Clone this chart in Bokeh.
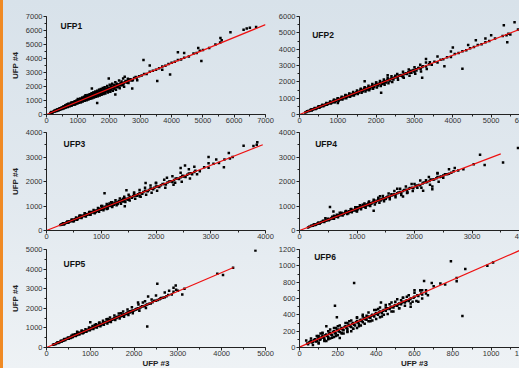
from bokeh.plotting import figure
from bokeh.models import Range1d, SingleIntervalTicker, Label, Spacer
from bokeh.layouts import row, column
from bokeh.embed import file_html
from bokeh.resources import INLINE

# ---------------- data ----------------
panel_titles = ["UFP1", "UFP2", "UFP3", "UFP4", "UFP5", "UFP6"]
x_title = "UFP #3"
y_title = "UFP #4"
axis_max = [7000, 6000, 4000, 4000, 5000, 1200]
tick_step = [1000, 1000, 1000, 1000, 1000, 200]

ufp1_pts = [
    (120, 100), (160, 170), (200, 160), (230, 240), (260, 210), (290, 290), (320, 260), (350, 340),
    (380, 320), (400, 400), (430, 370), (460, 450), (490, 420), (520, 510), (540, 460), (570, 560),
    (600, 530), (620, 600), (650, 560), (680, 660), (700, 610), (730, 700), (760, 660), (790, 760),
    (810, 700), (840, 800), (870, 760), (900, 860), (920, 790), (950, 900), (980, 850), (1000, 960),
    (1020, 880), (1050, 1010), (1080, 930), (1100, 1080), (1120, 960), (1150, 1100), (1170, 1000),
    (1200, 1160), (1220, 1050), (1250, 1200), (1270, 1090), (1300, 1250), (1320, 1120), (1350, 1290),
    (1370, 1170), (1400, 1340), (1420, 1210), (1450, 1380), (1470, 1260), (1500, 1420), (1520, 1300),
    (1550, 1470), (1570, 1340), (1600, 1520), (1620, 1380), (1650, 1560), (1670, 1440), (1700, 1600),
    (1720, 1480), (1750, 1650), (1780, 1530), (1800, 1700), (1830, 1580), (1860, 1760), (1900, 1660),
    (1940, 1820), (1980, 1730), (2020, 1900), (2060, 1800), (2100, 1960), (2150, 1880), (2200, 2040),
    (2250, 1980), (2300, 2130), (2350, 2080), (2400, 2220), (2460, 2180), (2520, 2330), (2580, 2300),
    (2650, 2450), (2720, 2420), (2800, 2600), (2880, 2600), (2960, 2740), (3040, 2780), (3120, 2900),
    (3200, 2900), (3300, 3050), (3400, 3120), (3500, 3200), (3600, 3300), (3700, 3420), (3800, 3480),
    (3900, 3600), (4000, 3700), (4100, 3760), (4200, 3900), (4300, 3920), (4400, 4050), (4550, 4150),
    (4700, 4350), (4800, 4400), (4900, 4550), (5000, 4600), (5200, 4750), (5400, 5000),
    (650, 720), (800, 640), (1000, 1100), (1100, 900), (1250, 1330), (1350, 1150), (1450, 1250),
    (1550, 1580), (1650, 1380), (1750, 1720), (900, 720), (700, 760), (1150, 1200), (1300, 1100),
    (1450, 1850), (1620, 820), (1990, 2570), (2200, 1420), (2740, 1850), (3100, 3900), (3540, 2400),
    (3950, 2850), (4400, 4400), (4950, 3820), (5560, 5460), (5600, 5300), (5880, 5870), (6300, 6050),
    (6400, 6150), (6500, 6200), (6700, 6250), (2500, 2700), (3300, 3500), (4200, 4450), (4850, 4750),
    (5550, 5150), (3700, 3200), (2900, 2450),
    (150, 150), (180, 130), (250, 260), (280, 230), (310, 300), (340, 280), (370, 350), (410, 360),
    (440, 420), (470, 410), (500, 470), (530, 480), (560, 530), (590, 520), (630, 590), (660, 600),
    (690, 650), (720, 650), (750, 700), (770, 690), (820, 760), (850, 770), (880, 800), (910, 830),
    (940, 870), (970, 880), (1010, 930), (1040, 940), (1060, 990), (1090, 1000), (1130, 1040),
    (1160, 1060), (1190, 1100), (1210, 1110), (1240, 1150), (1280, 1170), (1310, 1200), (1340, 1230),
    (1380, 1260), (1410, 1300), (1440, 1320), (1480, 1350), (1510, 1390), (1540, 1410), (1580, 1450),
    (1610, 1480), (1640, 1500), (1690, 1550), (1730, 1590), (1770, 1620), (1820, 1680), (1870, 1710),
    (1920, 1770), (1970, 1800), (2030, 1870), (2080, 1910), (2130, 1950), (2180, 2010), (2230, 2040),
    (2280, 2100), (2330, 2140), (2380, 2190), (2430, 2240), (2490, 2290), (2550, 2350), (2610, 2400),
    (2700, 2480), (1200, 1000), (1400, 1180), (1600, 1380), (1800, 1560), (1000, 820), (1250, 1380),
    (1500, 1560), (1700, 1750), (800, 850), (600, 650),
]
ufp1_band = [
    (300, 315), (320, 256), (360, 378), (380, 304), (420, 441), (440, 352), (480, 504), (500, 400),
    (540, 567), (560, 448), (600, 630), (620, 496), (660, 693), (680, 544), (720, 756), (740, 592),
    (780, 819), (800, 640), (840, 882), (860, 688), (900, 945), (920, 736), (960, 1008), (980, 784),
    (1020, 1071), (1040, 832), (1080, 1134), (1100, 880), (1140, 1197), (1160, 928), (1200, 1260),
    (1220, 976), (1260, 1323), (1280, 1024), (1320, 1386), (1340, 1072), (1380, 1449), (1400, 1120),
    (1440, 1512), (1460, 1168), (1500, 1575), (1520, 1216), (1560, 1638), (1580, 1264), (1620, 1701),
    (1640, 1312), (1680, 1764), (1700, 1360), (1740, 1827), (1760, 1408), (1800, 1890), (1820, 1456),
    (1860, 1953), (1880, 1504), (1940, 2037), (1960, 1568), (2020, 2121), (2040, 1632), (2100, 2205),
    (2120, 1696), (2200, 2310), (2220, 1776), (2320, 2436), (2340, 1872), (2450, 2572), (2480, 1984),
    (350, 343), (370, 318), (450, 441), (470, 404), (550, 539), (570, 490), (650, 637), (670, 576),
    (750, 735), (770, 662), (850, 833), (870, 748), (950, 931), (970, 834), (1050, 1029), (1070, 920),
    (1150, 1127), (1170, 1006), (1250, 1225), (1270, 1092), (1350, 1323), (1370, 1178), (1450, 1421),
    (1470, 1264), (1550, 1519), (1570, 1350), (1650, 1617), (1670, 1436), (1750, 1715), (1770, 1522),
    (1850, 1813), (1870, 1608), (1950, 1911), (1970, 1694), (2050, 2009), (2070, 1780), (2150, 2107),
    (2170, 1866), (2250, 2205), (2270, 1952), (2400, 2352), (2420, 2081), (2600, 2548), (2620, 2253),
    (330, 310), (390, 355), (430, 400), (490, 455), (530, 470), (590, 560), (640, 585), (700, 660),
    (740, 680), (790, 750), (830, 760), (880, 835), (930, 850), (990, 940), (1030, 950), (1090, 1030),
    (1130, 1000), (1180, 1120), (1230, 1090), (1290, 1230), (1330, 1170), (1390, 1320), (1430, 1260),
    (1490, 1420), (1530, 1350), (1590, 1500), (1630, 1430), (1690, 1600), (1730, 1510), (1790, 1690),
    (1840, 1620), (1890, 1790), (1930, 1700), (1990, 1880), (2040, 1790), (2110, 1990), (2160, 1900),
    (2240, 2120), (2290, 2010), (2370, 2240), (2440, 2140), (2530, 2390), (2590, 2270), (2680, 2510),
    (2760, 2440), (2850, 2680),
]
ufp1_fit_x = [0, 7000]
ufp1_fit_y = [0, 6420]

ufp2_pts = [
    (150, 130), (200, 200), (250, 210), (300, 290), (350, 300), (400, 380), (450, 390), (500, 470),
    (550, 480), (600, 560), (650, 570), (700, 650), (750, 660), (800, 750), (850, 740), (900, 840),
    (950, 830), (1000, 930), (1050, 920), (1100, 1020), (1150, 1000), (1200, 1110), (1250, 1080),
    (1300, 1200), (1350, 1170), (1400, 1290), (1450, 1250), (1500, 1380), (1550, 1340), (1600, 1470),
    (1650, 1420), (1700, 1560), (1750, 1500), (1800, 1660), (1850, 1590), (1900, 1750), (1950, 1680),
    (2000, 1840), (2050, 1780), (2100, 1930), (2150, 1860), (2200, 2020), (2250, 1960), (2300, 2110),
    (2350, 2050), (2400, 2200), (2450, 2150), (2500, 2290), (2560, 2250), (2620, 2390), (2680, 2360),
    (2740, 2500), (2800, 2480), (2860, 2600), (2920, 2560), (2980, 2720), (3050, 2700), (3100, 2850),
    (3160, 2780), (3220, 2950), (3300, 2940), (3380, 3080), (3450, 3050), (3520, 3230), (3600, 3180),
    (3680, 3350), (3750, 3380), (3850, 3500), (3950, 3520), (4050, 3700), (4150, 3760), (4250, 3880),
    (4350, 3940), (4450, 4050), (4550, 4130), (4650, 4250), (4750, 4300), (4850, 4420), (4950, 4500),
    (5100, 4650), (5300, 4800),
    (700, 600), (900, 900), (1100, 950), (1300, 1260), (1500, 1320), (1700, 1620), (1900, 1700),
    (2500, 2380), (2900, 2680), (3000, 2600), (3400, 3200),
    (1700, 2040), (2130, 1330), (2890, 2550), (3200, 2250), (3780, 2950), (3950, 3850), (4250, 2800),
    (5420, 4420), (5450, 4950), (5500, 4900), (5400, 4850), (5330, 5470), (5610, 5650), (5700, 5200),
    (4600, 4550), (4000, 4100), (3300, 3400), (4850, 4650), (2300, 2400), (1000, 700), (2700, 2300),
    (3600, 3550), (4400, 4250), (5000, 4850),
    (180, 160), (230, 210), (280, 250), (330, 300), (380, 340), (430, 390), (480, 440), (530, 480),
    (580, 530), (630, 570), (680, 620), (730, 660), (780, 710), (830, 760), (880, 800), (930, 850),
    (980, 890), (1030, 940), (1080, 980), (1130, 1030), (1180, 1070), (1230, 1120), (1280, 1170),
    (1330, 1210), (1380, 1260), (1430, 1300), (1480, 1350), (1530, 1390), (1580, 1440), (1630, 1480),
    (1680, 1530), (1730, 1570), (1780, 1620), (1830, 1670), (1880, 1710), (1930, 1760), (1980, 1800),
    (2030, 1850), (2080, 1890), (2130, 1940), (2180, 1980), (2230, 2030), (2280, 2080), (2330, 2120),
    (2380, 2170), (2430, 2210), (2480, 2260), (2540, 2310), (2600, 2370), (2660, 2420), (2720, 2470),
    (2780, 2530), (2840, 2580), (2900, 2640), (2960, 2690), (3040, 2770), (3120, 2840), (3200, 2910),
    (1200, 1200), (1400, 1200), (1600, 1550), (1800, 1560), (2000, 1950), (2200, 1900), (1000, 1000),
    (900, 760),
]
ufp2_band = [
    (300, 300), (320, 250), (400, 400), (420, 340), (500, 500), (520, 420), (600, 600), (620, 500),
    (700, 700), (720, 590), (800, 790), (820, 670), (900, 890), (920, 750), (1000, 990), (1020, 830),
    (1100, 1090), (1120, 920), (1200, 1180), (1220, 1000), (1300, 1280), (1320, 1080), (1400, 1380),
    (1420, 1160), (1500, 1470), (1520, 1250), (1600, 1570), (1620, 1330), (1700, 1670), (1720, 1410),
    (1800, 1760), (1820, 1490), (1900, 1860), (1920, 1580), (2000, 1960), (2020, 1660), (2100, 2050),
    (2120, 1740), (2200, 2150), (2220, 1820), (2300, 2250), (2320, 1910), (2400, 2340), (2420, 1990),
    (2550, 2480), (2570, 2120), (2700, 2620), (2720, 2250), (2850, 2760), (2870, 2380), (3000, 2900),
    (3020, 2500), (3150, 3050), (3170, 2640), (3300, 3180), (3320, 2780),
]
ufp2_fit_x = [0, 6000]
ufp2_fit_y = [0, 5450]

ufp3_pts = [
    (250, 220), (280, 240), (300, 270), (330, 290), (360, 320), (390, 340), (420, 380), (450, 390),
    (480, 430), (510, 440), (540, 490), (570, 490), (600, 540), (630, 540), (660, 600), (690, 590),
    (720, 650), (750, 640), (780, 700), (810, 700), (840, 760), (870, 750), (900, 810), (930, 800),
    (960, 870), (990, 850), (1020, 920), (1050, 900), (1080, 980), (1110, 950), (1140, 1030),
    (1170, 1000), (1200, 1090), (1230, 1050), (1260, 1140), (1290, 1100), (1320, 1200), (1350, 1160),
    (1380, 1250), (1410, 1210), (1440, 1300), (1480, 1270), (1520, 1380), (1560, 1340), (1600, 1440),
    (1650, 1420), (1700, 1530), (1750, 1500), (1800, 1620), (1850, 1600), (1900, 1710), (1950, 1680),
    (2000, 1800), (2060, 1780), (2120, 1900), (2180, 1880), (2240, 2000), (2300, 1980), (2360, 2120),
    (2420, 2100), (2480, 2230), (2540, 2180), (2600, 2330), (2660, 2300), (2720, 2440), (2800, 2420),
    (2880, 2580), (2960, 2560), (3050, 2720), (3150, 2760), (3250, 2900), (3350, 2940),
    (500, 380), (700, 700), (900, 760), (1000, 1000), (1100, 880), (1200, 1150), (1300, 1080),
    (1400, 1300), (1500, 1260), (1600, 1500), (800, 640), (600, 600),
    (1060, 1520), (1460, 1640), (1430, 990), (1810, 1940), (2530, 2650), (2450, 2550), (2500, 2200),
    (2960, 2740), (2960, 3000), (3240, 2580), (3330, 3160), (3600, 3460), (3780, 3450), (3840, 3500),
    (3850, 3600), (3100, 2900), (2700, 2600), (2200, 2150), (2000, 1950), (2750, 2300), (2350, 1950),
    (1700, 1400), (3400, 3000),
    (270, 250), (310, 280), (340, 300), (370, 330), (400, 360), (430, 380), (460, 410), (490, 430),
    (520, 460), (550, 490), (580, 510), (610, 540), (640, 570), (670, 590), (700, 620), (730, 650),
    (760, 670), (790, 700), (820, 730), (850, 750), (880, 780), (910, 810), (940, 830), (970, 860),
    (1000, 890), (1030, 910), (1060, 940), (1090, 960), (1120, 990), (1150, 1020), (1180, 1040),
    (1210, 1070), (1240, 1100), (1270, 1120), (1300, 1150), (1340, 1190), (1370, 1210), (1400, 1240),
    (1430, 1270), (1460, 1290), (1500, 1330), (1540, 1360), (1580, 1400), (1620, 1430), (1670, 1480),
    (1720, 1520), (1770, 1570), (1820, 1610), (1870, 1650), (1920, 1700), (1970, 1740), (2030, 1800),
    (2090, 1850), (2150, 1900), (2210, 1960), (2270, 2010), (2330, 2060), (2390, 2120), (2450, 2170),
    (2510, 2220), (2570, 2280), (2640, 2340), (2700, 2390), (800, 760), (1000, 850), (1200, 1000),
    (1400, 1180), (1150, 1100), (950, 900),
]
ufp3_band = [
    (300, 300), (320, 250), (380, 370), (400, 320), (460, 450), (480, 380), (540, 530), (560, 440),
    (620, 610), (640, 510), (700, 690), (720, 570), (780, 760), (800, 640), (860, 840), (880, 700),
    (940, 920), (960, 770), (1020, 1000), (1040, 830), (1100, 1080), (1120, 900), (1180, 1150),
    (1200, 960), (1260, 1230), (1280, 1030), (1340, 1310), (1360, 1090), (1420, 1380), (1440, 1160),
    (1500, 1460), (1520, 1220), (1600, 1550), (1620, 1300), (1700, 1650), (1720, 1380), (1800, 1740),
    (1820, 1460), (1900, 1840), (1920, 1540), (2000, 1930), (2020, 1620), (2150, 2070), (2170, 1750),
    (2300, 2210), (2320, 1870), (2450, 2360), (2470, 1990), (2600, 2500), (2620, 2120),
]
ufp3_fit_x = [0, 3950]
ufp3_fit_y = [0, 3500]

ufp4_pts = [
    (150, 120), (200, 180), (230, 190), (260, 240), (290, 250), (320, 290), (350, 300), (380, 350),
    (410, 360), (440, 400), (470, 410), (500, 460), (530, 460), (560, 510), (590, 510), (620, 570),
    (650, 560), (680, 620), (710, 620), (740, 680), (770, 670), (800, 730), (830, 720), (860, 790),
    (890, 770), (920, 840), (950, 820), (980, 890), (1010, 870), (1040, 950), (1070, 920), (1100, 1000),
    (1130, 970), (1160, 1050), (1190, 1030), (1220, 1110), (1250, 1090), (1290, 1170), (1330, 1150),
    (1370, 1240), (1410, 1220), (1450, 1310), (1490, 1290), (1530, 1380), (1570, 1360), (1620, 1450),
    (1670, 1440), (1720, 1550), (1770, 1540), (1820, 1650), (1870, 1630), (1920, 1730), (1980, 1720),
    (2040, 1840), (2100, 1850), (2160, 1960), (2220, 1980), (2280, 2080), (2340, 2080), (2400, 2180),
    (2460, 2200), (2530, 2300), (2600, 2320), (2680, 2420), (2760, 2450),
    (450, 500), (600, 480), (700, 720), (850, 700), (1000, 950), (1150, 1000), (1300, 1230),
    (1500, 1300), (1600, 1480), (900, 880),
    (530, 960), (590, 780), (1290, 810), (1800, 1390), (1880, 1550), (2150, 1620), (2310, 1680),
    (2310, 1800), (2400, 2350), (2200, 2050), (2000, 1900), (2050, 1750), (2500, 2150), (2700, 2550),
    (2600, 2500), (3030, 2700), (3140, 3090), (3220, 2670), (3540, 2780), (3800, 3370), (3880, 3600),
    (2850, 2500), (1700, 1700), (1400, 1400), (1000, 780),
    (170, 150), (210, 190), (250, 220), (280, 250), (310, 280), (340, 300), (370, 330), (400, 360),
    (430, 380), (460, 410), (490, 440), (520, 470), (550, 490), (580, 520), (610, 550), (640, 570),
    (670, 600), (700, 630), (730, 650), (760, 680), (790, 710), (820, 730), (850, 760), (880, 790),
    (910, 810), (940, 840), (970, 870), (1000, 900), (1030, 920), (1060, 950), (1090, 980),
    (1120, 1000), (1150, 1030), (1180, 1060), (1210, 1080), (1240, 1110), (1270, 1140), (1310, 1170),
    (1350, 1210), (1390, 1240), (1430, 1280), (1470, 1320), (1510, 1350), (1550, 1390), (1600, 1430),
    (1650, 1480), (1700, 1520), (1750, 1570), (1800, 1610), (1850, 1660), (1900, 1700), (1960, 1750),
    (2020, 1810), (2080, 1860), (2140, 1920), (2200, 1970), (2260, 2020), (2320, 2080), (2380, 2130),
    (2440, 2180), (2500, 2240), (2570, 2300), (2640, 2360), (800, 780), (1000, 860), (1200, 1130),
    (1400, 1260), (1100, 1050), (600, 600),
]
ufp4_band = [
    (250, 250), (270, 220), (330, 330), (350, 290), (410, 400), (430, 350), (490, 480), (510, 420),
    (570, 560), (590, 480), (650, 640), (670, 540), (730, 720), (750, 610), (810, 800), (830, 670),
    (890, 870), (910, 740), (970, 950), (990, 800), (1050, 1030), (1070, 870), (1130, 1100),
    (1150, 930), (1210, 1180), (1230, 1000), (1290, 1260), (1310, 1060), (1370, 1340), (1390, 1130),
    (1450, 1410), (1470, 1190), (1550, 1510), (1570, 1280), (1650, 1610), (1670, 1360), (1750, 1700),
    (1770, 1450), (1850, 1800), (1870, 1530), (1950, 1900), (1970, 1610), (2100, 2040), (2120, 1740),
    (2250, 2180), (2270, 1870), (2400, 2330), (2420, 1990),
]
ufp4_fit_x = [0, 3500]
ufp4_fit_y = [0, 3130]

ufp5_pts = [
    (150, 140), (200, 170), (250, 240), (300, 270), (350, 330), (400, 360), (450, 430), (500, 460),
    (550, 530), (600, 550), (650, 620), (700, 640), (750, 720), (800, 740), (850, 810), (900, 830),
    (950, 910), (1000, 930), (1050, 1000), (1100, 1030), (1150, 1100), (1200, 1120), (1250, 1190),
    (1300, 1220), (1350, 1290), (1400, 1310), (1450, 1390), (1500, 1410), (1550, 1490), (1600, 1500),
    (1650, 1580), (1700, 1600), (1750, 1680), (1800, 1700), (1850, 1780), (1900, 1790), (1950, 1880),
    (2000, 1890), (2060, 1980), (2120, 2000), (2180, 2100), (2240, 2120), (2300, 2200), (2380, 2250),
    (2460, 2380), (2540, 2420), (2620, 2520), (2700, 2560), (2780, 2680), (2860, 2700),
    (400, 420), (550, 480), (700, 700), (850, 760), (1000, 1000), (1150, 1050), (1300, 1280),
    (1450, 1330), (1600, 1560), (1750, 1620), (1900, 1850), (2050, 1940), (600, 650), (1200, 1250),
    (1000, 1290), (700, 800), (2090, 2300), (2320, 2600), (2530, 3250), (2300, 1070), (2950, 3160),
    (2900, 3050), (2960, 2950), (2900, 2850), (3000, 2900), (3100, 2700), (3150, 3000), (2700, 2800),
    (2600, 2500), (2400, 2450), (2200, 2300), (3900, 3760), (4030, 3700), (4260, 4070), (4770, 4950),
    (2800, 2900), (2500, 2650),
    (170, 160), (220, 210), (270, 260), (320, 300), (370, 350), (420, 400), (470, 450), (520, 500),
    (570, 540), (620, 590), (670, 640), (720, 690), (770, 740), (820, 780), (870, 830), (920, 880),
    (970, 930), (1020, 970), (1070, 1020), (1120, 1070), (1170, 1120), (1220, 1170), (1270, 1210),
    (1320, 1260), (1370, 1310), (1420, 1360), (1470, 1400), (1520, 1450), (1570, 1500), (1620, 1550),
    (1670, 1600), (1720, 1640), (1770, 1690), (1820, 1740), (1870, 1790), (1920, 1830), (1970, 1880),
    (2030, 1940), (2090, 2000), (2150, 2050), (2210, 2110), (2270, 2170), (2340, 2230), (2420, 2310),
    (2500, 2390), (2580, 2460), (2660, 2540), (2740, 2620), (800, 850), (1100, 1150), (1400, 1450),
    (1700, 1750), (950, 880), (1250, 1150), (1550, 1440), (1850, 1720),
]
ufp5_band = [
    (250, 260), (270, 230), (330, 340), (350, 310), (410, 430), (430, 380), (490, 510), (510, 450),
    (570, 600), (590, 520), (650, 680), (670, 590), (730, 770), (750, 660), (810, 850), (830, 730),
    (890, 930), (910, 800), (970, 1020), (990, 880), (1050, 1100), (1070, 950), (1130, 1190),
    (1150, 1020), (1210, 1270), (1230, 1090), (1290, 1360), (1310, 1160), (1370, 1440), (1390, 1230),
    (1450, 1530), (1470, 1300), (1550, 1630), (1570, 1400), (1650, 1740), (1670, 1480), (1750, 1840),
    (1770, 1570), (1850, 1940), (1870, 1660), (1950, 2050), (1970, 1750), (2100, 2200), (2120, 1880),
    (2250, 2360), (2270, 2010),
]
ufp5_fit_x = [0, 4270]
ufp5_fit_y = [0, 4080]

ufp6_pts = [
    (40, 50), (50, 60), (60, 80), (70, 70), (80, 100), (90, 80), (100, 120), (110, 100), (120, 140),
    (130, 110), (140, 160), (150, 130), (160, 180), (170, 150), (180, 200), (190, 170), (200, 220),
    (210, 190), (220, 240), (230, 210), (240, 260), (250, 230), (260, 280), (270, 250), (280, 300),
    (290, 270), (300, 320), (310, 290), (320, 340), (330, 310), (340, 360), (350, 340), (360, 380),
    (370, 360), (380, 400), (390, 380), (400, 420), (410, 400), (420, 440), (430, 420), (440, 460),
    (450, 450), (460, 480), (470, 470), (480, 500), (490, 490), (500, 520), (510, 510), (520, 540),
    (530, 530), (540, 560), (550, 550), (560, 580), (570, 570), (580, 600), (600, 620), (620, 630),
    (640, 650), (660, 660),
    (100, 60), (120, 180), (150, 100), (160, 220), (180, 130), (200, 260), (220, 180), (250, 300),
    (270, 200), (300, 360), (320, 270), (350, 390), (380, 330), (400, 460), (420, 370), (450, 490),
    (480, 440), (300, 240), (250, 190), (200, 150), (140, 80), (100, 140),
    (35, 85), (140, 260), (185, 510), (195, 370), (210, 115), (285, 790), (425, 550), (650, 815),
    (690, 790), (735, 785), (820, 810), (820, 850), (865, 960), (850, 385), (790, 1055), (980, 1000),
    (1010, 1040), (1160, 710), (600, 700), (640, 700), (560, 620), (530, 580), (700, 750), (760, 770),
    (620, 560), (580, 500),
    (45, 40), (55, 70), (65, 60), (75, 90), (85, 75), (95, 110), (105, 95), (115, 130), (125, 120),
    (135, 150), (145, 140), (155, 170), (165, 160), (175, 190), (185, 175), (195, 210), (205, 200),
    (215, 230), (225, 220), (235, 250), (245, 240), (255, 270), (265, 260), (275, 290), (285, 280),
    (295, 310), (305, 305), (315, 330), (325, 325), (335, 350), (345, 345), (355, 370), (365, 370),
    (375, 390), (385, 395), (395, 410), (405, 415), (415, 430), (435, 450), (455, 470), (475, 490),
    (495, 510), (515, 530), (535, 550), (555, 570), (575, 590), (595, 610), (615, 640), (635, 660),
    (110, 170), (130, 90), (170, 120), (190, 240), (230, 170), (260, 320), (280, 230), (330, 380),
    (360, 320), (410, 470), (440, 400), (500, 560), (520, 480), (470, 530), (540, 610), (590, 560),
    (630, 700),
]
ufp6_band = [
    (60, 110), (70, 30), (90, 140), (100, 50), (120, 170), (130, 80), (150, 200), (160, 110),
    (180, 240), (190, 140), (210, 270), (220, 170), (240, 300), (250, 200), (270, 330), (280, 230),
    (300, 370), (310, 260), (330, 400), (340, 290), (360, 430), (370, 320), (390, 460), (400, 350),
    (420, 490), (430, 380), (450, 520), (460, 410), (480, 550), (490, 440), (510, 590), (520, 480),
    (540, 610), (550, 510), (570, 640), (580, 540), (600, 670), (610, 570), (630, 700), (640, 600),
    (660, 700), (670, 640),
]
ufp6_fit_x = [0, 1160]
ufp6_fit_y = [5, 1200]

all_pts = [ufp1_pts + ufp1_band, ufp2_pts + ufp2_band, ufp3_pts + ufp3_band,
           ufp4_pts + ufp4_band, ufp5_pts + ufp5_band, ufp6_pts + ufp6_band]
all_fit_x = [ufp1_fit_x, ufp2_fit_x, ufp3_fit_x, ufp4_fit_x, ufp5_fit_x, ufp6_fit_x]
all_fit_y = [ufp1_fit_y, ufp2_fit_y, ufp3_fit_y, ufp4_fit_y, ufp5_fit_y, ufp6_fit_y]

# title placement as fraction of axis range (layout, not data)
title_frac = [(0.064, 0.907), (0.055, 0.816), (0.078, 0.887), (0.068, 0.887), (0.078, 0.857), (0.064, 0.928)]

FONT = "Liberation Sans"
row_heights = [125, 116, 129]
row_tops = [16, 7, 8]
row_bottoms = [11, 11, 21]
col_widths = [272, 256]
col_lefts = [43, 23]
col_rights = [10, 2]


def make_panel(i):
    r, c = divmod(i, 2)
    m = axis_max[i]
    p = figure(width=col_widths[c], height=row_heights[r], output_backend="svg",
               toolbar_location=None, x_range=Range1d(0, m), y_range=Range1d(0, m),
               min_border_left=col_lefts[c], min_border_right=col_rights[c],
               min_border_top=row_tops[r], min_border_bottom=row_bottoms[r])
    p.background_fill_color = None
    p.border_fill_color = None
    p.outline_line_color = None
    p.grid.visible = False
    for ax in (p.xaxis[0], p.yaxis[0]):
        ax.ticker = SingleIntervalTicker(interval=tick_step[i], num_minor_ticks=2)
        ax.major_tick_out = 3
        ax.major_tick_in = 0
        ax.minor_tick_out = 2
        ax.minor_tick_in = 0
        ax.major_label_standoff = 0
        ax.major_label_text_font = FONT
        ax.major_label_text_font_size = "7.5px"
        ax.major_label_text_color = "#333333"
        ax.axis_line_color = "#222222"
        ax.major_tick_line_color = "#222222"
        ax.minor_tick_line_color = "#222222"
        ax.axis_label_text_font = FONT
        ax.axis_label_text_font_size = "8px"
        ax.axis_label_text_font_style = "bold"
        ax.axis_label_text_color = "#222222"
        ax.axis_label_standoff = 3
    p.yaxis[0].major_label_standoff = 1
    p.yaxis[0].major_label_orientation = "horizontal"
    if c == 0:
        p.yaxis[0].axis_label = y_title
    if r == 2:
        p.xaxis[0].axis_label = x_title
        p.xaxis[0].axis_label_standoff = 0

    xs = [pt[0] for pt in all_pts[i]]
    ys = [pt[1] for pt in all_pts[i]]
    p.scatter(xs, ys, marker="square", size=2.5, color="black", line_width=0)
    p.line(all_fit_x[i], all_fit_y[i], line_color="#ee1111", line_width=1.2)

    fx, fy = title_frac[i]
    p.add_layout(Label(x=m * fx, y=m * fy, text=panel_titles[i], text_font=FONT,
                       text_font_size="8.5px", text_font_style="bold", text_color="#111111",
                       text_baseline="middle", text_align="left"))
    return p


panels = [make_panel(i) for i in range(6)]
grid = column(row(panels[0], panels[1]), row(panels[2], panels[3]), row(panels[4], panels[5]))
stripe = Spacer(width=3, height=370, styles={"background-color": "#f08a24"})
layout = row(stripe, grid, width=519, height=368, styles={
    "overflow": "hidden",
    "background": "linear-gradient(180deg, #d8e2ea 0%, #e2e9ef 55%, #eef2f5 100%)"})

open("out.html", "w").write(file_html(layout, INLINE))
